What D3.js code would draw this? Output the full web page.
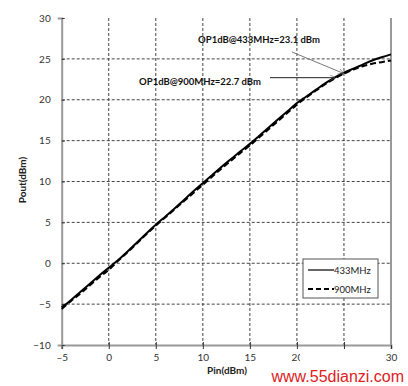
<!DOCTYPE html>
<html>
<head>
<meta charset="utf-8">
<script src="https://cdn.jsdelivr.net/npm/d3@7"></script>
<style>
  body { margin: 0; background: #fff; }
  svg { display: block; }
  text { font-family: Lato, "Open Sans", sans-serif; }
</style>
</head>
<body>
<div id="chart"></div>
<script>
// data
var pin = [-5,-4,-3,-2,-1,0,1,2,3,4,5,6,7,8,9,10,11,12,13,14,15,16,17,18,19,20,21,22,23,24,25,26,27,28,29,30];
var pout433 = [-5.4,-4.5,-3.5,-2.5,-1.5,-0.55,0.4,1.45,2.55,3.65,4.7,5.7,6.7,7.75,8.8,9.8,10.8,11.8,12.75,13.7,14.6,15.6,16.6,17.6,18.6,19.6,20.4,21.2,22.0,22.7,23.3,23.8,24.3,24.8,25.2,25.55];
var pout900 = [-5.6,-4.6,-3.7,-2.7,-1.7,-0.8,0.3,1.35,2.45,3.55,4.6,5.6,6.6,7.6,8.6,9.6,10.6,11.6,12.55,13.5,14.4,15.4,16.4,17.4,18.4,19.4,20.3,21.1,21.9,22.6,23.2,23.7,24.1,24.4,24.6,24.8];
var xTicks = [-5,0,5,10,15,20,25,30];
var yTicks = [-10,-5,0,5,10,15,20,25,30];
var seriesNames = ["433MHz", "900MHz"];

var width = 408, height = 386;
var svg = d3.select("#chart").append("svg").attr("width", width).attr("height", height);

var x = d3.scaleLinear().domain([-5, 30]).range([61.7, 391]);
var y = d3.scaleLinear().domain([-10, 30]).range([345, 18]);

// grid
svg.append("g").selectAll("line")
    .data(xTicks.filter(d => d > -5 && d < 30))
    .enter().append("line")
    .attr("x1", d => x(d)).attr("x2", d => x(d))
    .attr("y1", y(30)).attr("y2", y(-10))
    .attr("stroke", "#444").attr("stroke-width", 1).attr("stroke-dasharray", "3,2");
svg.append("g").selectAll("line")
    .data(yTicks.filter(d => d > -10 && d < 30))
    .enter().append("line")
    .attr("x1", x(-5)).attr("x2", x(30))
    .attr("y1", d => y(d)).attr("y2", d => y(d))
    .attr("stroke", "#444").attr("stroke-width", 1).attr("stroke-dasharray", "3,2");

// axes
var xAxis = svg.append("g").attr("transform", "translate(0," + y(-10) + ")")
    .call(d3.axisBottom(x).tickValues(xTicks).tickSize(4).tickFormat(d => d < 0 ? "\u2013" + Math.abs(d) : d));
var yAxis = svg.append("g").attr("transform", "translate(" + x(-5) + ",0)")
    .call(d3.axisLeft(y).tickValues(yTicks).tickSize(4));
[xAxis, yAxis].forEach(function(a) {
    a.select(".domain").attr("stroke", "#999").attr("stroke-width", 2);
    a.selectAll(".tick line").attr("stroke", "#333");
    a.selectAll(".tick text").attr("font-size", 10).attr("fill", "#333")
        .style("font-family", "Lato, sans-serif");
});
xAxis.selectAll(".tick line").attr("y1", -3);
yAxis.selectAll(".tick line").attr("x2", 3);
yAxis.selectAll(".tick text").attr("x", -11);
xAxis.selectAll(".tick text").attr("y", 9);

// right border
svg.append("line")
    .attr("x1", x(30)).attr("x2", x(30)).attr("y1", y(30)).attr("y2", y(-10))
    .attr("stroke", "#999").attr("stroke-width", 2);

// curves
var line = d3.line().x(d => x(d[0])).y(d => y(d[1])).curve(d3.curveMonotoneX);
svg.append("path")
    .datum(pin.map((p, i) => [p, pout900[i]]))
    .attr("d", line).attr("fill", "none").attr("stroke", "#000")
    .attr("stroke-width", 2).attr("stroke-dasharray", "6,3");
svg.append("path")
    .datum(pin.map((p, i) => [p, pout433[i]]))
    .attr("d", line).attr("fill", "none").attr("stroke", "#000")
    .attr("stroke-width", 2);

// annotations
svg.append("defs").append("marker")
    .attr("id", "arr").attr("viewBox", "0 0 10 10").attr("refX", 10).attr("refY", 5)
    .attr("markerWidth", 6).attr("markerHeight", 6).attr("orient", "auto")
    .append("path").attr("d", "M0,0 L10,5 L0,10").attr("fill", "none").attr("stroke", "#555");
svg.append("line")
    .attr("x1", 292).attr("y1", 52).attr("x2", x(25)).attr("y2", y(23.2))
    .attr("stroke", "#777").attr("stroke-width", 1).attr("marker-end", "url(#arr)");
svg.append("line")
    .attr("x1", 270).attr("y1", y(22.7)).attr("x2", x(24.1)).attr("y2", y(22.7))
    .attr("stroke", "#222").attr("stroke-width", 1).attr("marker-end", "url(#arr)");
svg.append("text").attr("x", 259).attr("y", 43).attr("text-anchor", "middle")
    .attr("font-size", 9.5).attr("font-weight", "bold").attr("fill", "#111")
    .text("OP1dB@433MHz=23.1  dBm");
svg.append("text").attr("x", 200).attr("y", 85).attr("text-anchor", "middle")
    .attr("font-size", 9.5).attr("font-weight", "bold").attr("fill", "#111")
    .text("OP1dB@900MHz=22.7  dBm");

// legend
var lg = svg.append("g").attr("transform", "translate(303,259)");
lg.append("rect").attr("width", 75).attr("height", 39)
    .attr("fill", "#fff").attr("stroke", "#555").attr("stroke-width", 1);
seriesNames.forEach(function(name, i) {
    lg.append("line").attr("x1", 5).attr("x2", 31)
        .attr("y1", 11 + i * 19).attr("y2", 11 + i * 19)
        .attr("stroke", "#000").attr("stroke-width", i ? 2 : 1.2)
        .attr("stroke-dasharray", i ? "5,3" : null);
    lg.append("text").attr("x", 31).attr("y", 14.5 + i * 19)
        .attr("font-size", 9.5).attr("fill", "#222").text(name);
});

// axis titles
svg.append("text").attr("transform", "translate(26,180) rotate(-90)")
    .attr("text-anchor", "middle").attr("font-size", 10).attr("font-weight", "bold")
    .attr("fill", "#222").text("Pout(dBm)");
svg.append("text").attr("x", 227).attr("y", 374)
    .attr("text-anchor", "middle").attr("font-size", 10).attr("font-weight", "bold")
    .attr("fill", "#222").text("Pin(dBm)");

// watermark
svg.append("rect").attr("x", 300).attr("y", 350).attr("width", 76).attr("height", 36).attr("fill", "#fff");
svg.append("text").attr("x", 404).attr("y", 382).attr("text-anchor", "end")
    .attr("font-size", 16).attr("fill", "#e0201c")
    .style("font-family", "'Liberation Sans', Arial, sans-serif")
    .text("www.55dianzi.com");
</script>
</body>
</html>
